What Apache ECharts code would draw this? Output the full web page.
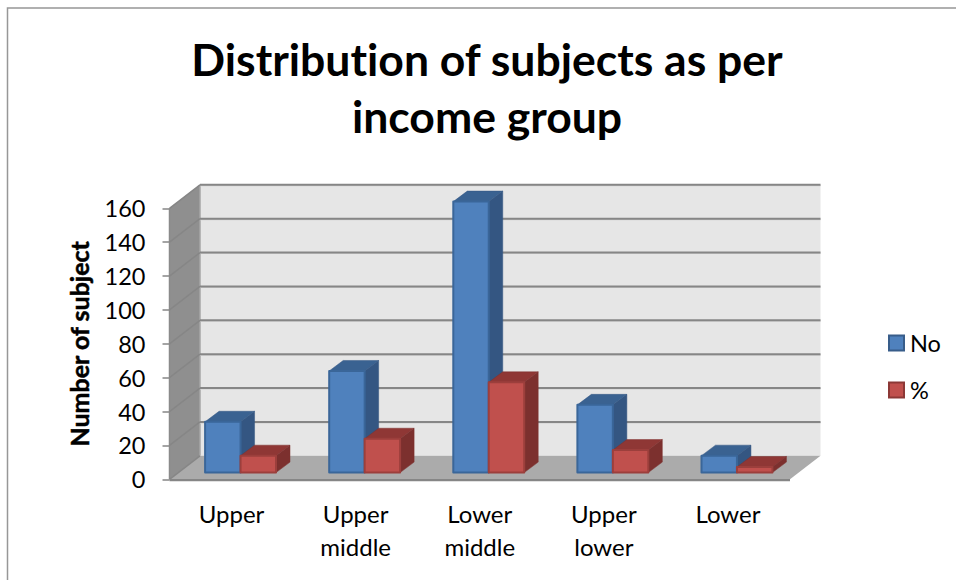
<!DOCTYPE html>
<html>
<head>
<meta charset="utf-8">
<style>html,body{margin:0;padding:0;background:#fff}#c{width:956px;height:580px;font-variant-ligatures:none}#c text{font-variant-ligatures:none}</style>
<script src="https://cdn.jsdelivr.net/npm/echarts@6/dist/echarts.min.js"></script>
</head>
<body>
<div id="c"></div>
<script>
const titleText = 'Distribution of subjects as per\nincome group';
const yAxisName = 'Number of subject';
const categories = ['Upper', 'Upper middle', 'Lower middle', 'Upper lower', 'Lower'];
const noValues = [30, 60, 160, 40, 10];
const pctValues = [10, 20, 53.3, 13.3, 3.3];
const yTicks = [0, 20, 40, 60, 80, 100, 120, 140, 160];

const FONT = 'Lato';
const DX = 30.5, DY = 23.5;        // wall depth
const BDX = 14, BDY = 10.5;        // bar depth
const IX = 9, IY = 6.7;            // bar inset from the floor's front edge
const GRID = '#868686';

function poly(points, fill, stroke, lw) {
  return { type: 'polygon', shape: { points }, style: { fill, stroke: stroke || null, lineWidth: lw || 0, lineJoin: 'round' } };
}
function seg(x1, y1, x2, y2, stroke, lw) {
  return { type: 'line', shape: { x1, y1, x2, y2 }, style: { stroke, lineWidth: lw, lineCap: 'butt' } };
}

function renderFrame(params, api) {
  const cs = params.coordSys;
  const xl = cs.x, xr = cs.x + cs.width;
  const y0 = api.coord([0, yTicks[0]])[1];
  const yT = api.coord([0, yTicks[yTicks.length - 1]])[1];
  const ch = [];
  ch.push(poly([[xl + DX, yT - DY], [xr + DX, yT - DY], [xr + DX, y0 - DY], [xl + DX, y0 - DY]], '#e6e6e6'));
  ch.push(poly([[xl, yT], [xl + DX, yT - DY], [xl + DX, y0 - DY], [xl, y0]], '#8f8f8f'));
  ch.push(poly([[xl, y0], [xr, y0], [xr + DX, y0 - DY], [xl + DX, y0 - DY]], '#ababab'));
  ch.push(seg(xl + DX, yT - DY, xl + DX, y0 - DY, '#a6a6a6', 1.5));
  ch.push(seg(xl, yT, xl, y0, '#8a8a8a', 1.5));
  yTicks.forEach(function (t) {
    const y = api.coord([0, t])[1];
    if (t !== yTicks[0]) {
      ch.push(seg(xl + DX, y - DY + 0.8, xr + DX, y - DY + 0.8, '#cfcfcf', 1.5));
      ch.push(seg(xl + DX, y - DY, xr + DX, y - DY, GRID, 2));
    }
    ch.push(seg(xl, y, xl + DX, y - DY, '#868686', 1.5));
  });
  ch.push(seg(xl, y0 + 0.8, xr, y0 + 0.8, GRID, 2.2));
  return { type: 'group', children: ch };
}

function barRenderer(side, front, border, topC, sideC) {
  return function (params, api) {
    const band = api.size([1, 0])[0];
    const w = band / 3.5;
    const c = api.coord([api.value(0), api.value(1)]);
    const b = api.coord([api.value(0), 0]);
    const x0 = c[0] + IX + (side === 0 ? -w : 0);
    const x1 = x0 + w;
    const yB = b[1] - IY;
    const yTop = c[1] - IY;
    return {
      type: 'group',
      children: [
        poly([[x1, yTop], [x1 + BDX, yTop - BDY], [x1 + BDX, yB - BDY], [x1, yB]], sideC, sideC, 0.5),
        poly([[x0, yTop], [x1, yTop], [x1 + BDX, yTop - BDY], [x0 + BDX, yTop - BDY]], topC, sideC, 0.5),
        poly([[x0, yTop], [x1, yTop], [x1, yB], [x0, yB]], front, border, 2)
      ]
    };
  };
}

const chart = echarts.init(document.getElementById('c'), null, { renderer: 'svg' });
chart.setOption({
  animation: false,
  backgroundColor: '#ffffff',
  title: {
    text: titleText,
    left: 482, top: 25, textAlign: 'center',
    textStyle: { fontFamily: FONT, fontWeight: 'bold', fontSize: 44.5, lineHeight: 57, color: '#000' }
  },
  legend: {
    data: ['No', '%'],
    orient: 'vertical', left: 883, top: 326, itemWidth: 15, itemHeight: 15, itemGap: 23,
    icon: 'rect',
    textStyle: { fontFamily: FONT, fontSize: 23.5, color: '#000', padding: [0, 0, 0, 1] },
    selectedMode: false
  },
  grid: { left: 169.5, top: 208.3, width: 620.5, height: 271, containLabel: false },
  xAxis: {
    type: 'category', data: categories,
    axisLine: { show: false }, axisTick: { show: false }, splitLine: { show: false },
    axisLabel: {
      margin: 18, fontFamily: FONT, fontSize: 24, lineHeight: 33, color: '#000', interval: 0,
      formatter: function (v) { return v.replace(' ', '\n'); }
    }
  },
  yAxis: {
    type: 'value', min: 0, max: 160, interval: 20,
    name: yAxisName, nameLocation: 'middle', nameGap: 78, nameRotate: 90,
    nameTextStyle: { fontFamily: FONT, fontWeight: 'bold', fontSize: 25, color: '#000', textBorderColor: '#000', textBorderWidth: 0.5 },
    axisLine: { show: false },
    axisTick: { show: true, length: 7, lineStyle: { color: GRID, width: 1.5 } },
    splitLine: { show: false },
    axisLabel: { margin: 24, fontFamily: FONT, fontSize: 23.5, color: '#000' }
  },
  graphic: [
    { type: 'polyline', silent: true, shape: { points: [[7.5, 580], [7.5, 8], [956, 8]] }, style: { fill: null, stroke: '#979797', lineWidth: 1.5 } }
  ],
  series: [
    { type: 'custom', name: 'frame', silent: true, clip: false, z: 1, data: [[0, 0]], encode: { x: 0, y: 1 }, renderItem: renderFrame },
    {
      type: 'custom', name: 'No', z: 2, clip: false, silent: true,
      itemStyle: { color: '#4f81bd', borderColor: '#385d8a', borderWidth: 1.5 },
      data: categories.map(function (c, i) { return [i, noValues[i]]; }), encode: { x: 0, y: 1 },
      renderItem: barRenderer(0, '#4f81bd', '#3a6699', '#3a6291', '#345682')
    },
    {
      type: 'custom', name: '%', z: 3, clip: false, silent: true,
      itemStyle: { color: '#c0504d', borderColor: '#8c3836', borderWidth: 1.5 },
      data: categories.map(function (c, i) { return [i, pctValues[i]]; }), encode: { x: 0, y: 1 },
      renderItem: barRenderer(1, '#c0504d', '#9c3f3c', '#8f3735', '#7c302e')
    }
  ]
});
</script>
</body>
</html>
